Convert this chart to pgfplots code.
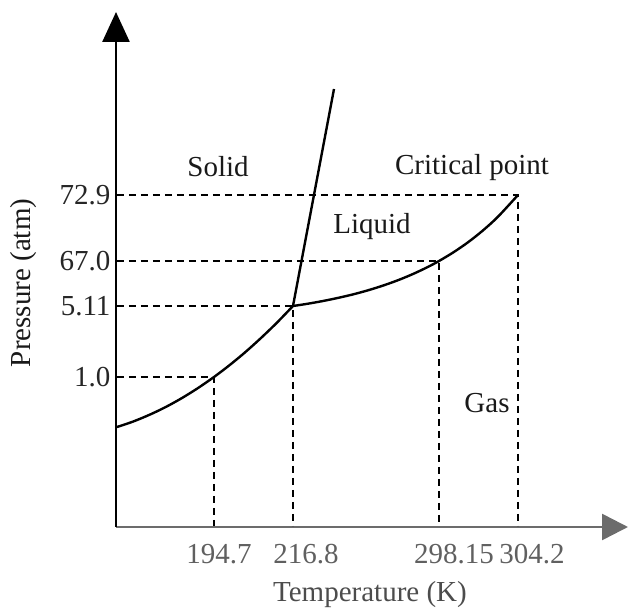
\documentclass[border=0pt]{standalone}
\usepackage{fontspec}
\setmainfont{Liberation Serif}
\usepackage{pgfplots}
\pgfplotsset{compat=1.18}
\usetikzlibrary{arrows.meta}
\newcommand{\bigfont}{\fontsize{29}{35}\selectfont}
\begin{document}
\begin{tikzpicture}
\begin{axis}[
  x=1pt, y=1pt,
  xmin=116, xmax=628, ymin=83, ymax=598,
  axis lines=left,
  clip=false,
  axis line style={line width=2.6pt},
  every outer x axis line/.append style={color=gray!85!black, -{Triangle[length=26pt,width=26pt]}},
  every outer y axis line/.append style={color=black, -{Triangle[length=30pt,width=27pt]}},
  major tick length=0pt,
  xtick={219,306,454,532},
  xticklabels={194.7,216.8,298.15,304.2},
  ytick={233,304,349,415},
  yticklabels={1.0,5.11,67.0,72.9},
  /pgf/number format/assume math mode=true,
  xticklabel style={font=\bigfont, color=gray!75!black, yshift=-14pt},
  yticklabel style={font=\bigfont, color=black!85, xshift=-2pt},
  xlabel={Temperature (K)},
  ylabel={Pressure (atm)},
  xlabel style={at={(axis description cs:0.496,-0.132)}, anchor=center, font=\bigfont, color=gray!60!black},
  ylabel style={at={(axis description cs:-0.181,0.474)}, anchor=center, font=\bigfont, color=black!90},
]
% dashed guide lines
\addplot[black, line width=2.6pt, dash pattern=on 7pt off 5pt] coordinates {(117,415) (518,415) (518,84)};
\addplot[black, line width=2.6pt, dash pattern=on 7pt off 5pt] coordinates {(117,349) (439,349) (439,84)};
\addplot[black, line width=2.6pt, dash pattern=on 7pt off 5pt] coordinates {(117,304) (293,304) (293,84)};
\addplot[black, line width=2.6pt, dash pattern=on 7pt off 5pt] coordinates {(117,233) (214,233) (214,84)};
% sublimation curve
\addplot[black, line width=2.4pt, smooth] coordinates {
 (117,183) (133,188.4) (149,195.0) (165,202.6) (181,211.4) (197,221.3) (214,233)
 (229,244.4) (245,257.6) (261,272.0) (277,287.4) (293,304)};
% melting line
\addplot[black, line width=2.4pt] coordinates {(293,304) (334,521)};
% vaporization curve
\addplot[black, line width=2.4pt, smooth] coordinates {
 (293,304) (308,306.3) (323,309.0) (338,312.1) (353,315.6) (368,319.7) (383,324.4)
 (398,329.8) (413,336.0) (428,343.1) (439,349) (453,357.4) (468,367.7) (483,379.6)
 (498,393.3) (518,415)};
% region labels
\node[font=\bigfont, color=black!90] at (axis cs:218,443) {Solid};
\node[font=\bigfont, color=black!90] at (axis cs:372,383) {Liquid};
\node[font=\bigfont, color=black!90] at (axis cs:472,442) {Critical point};
\node[font=\bigfont, color=black!90] at (axis cs:487,207) {Gas};
\path (axis cs:0,0) rectangle (axis cs:630,610);
\end{axis}
\end{tikzpicture}
\end{document}
